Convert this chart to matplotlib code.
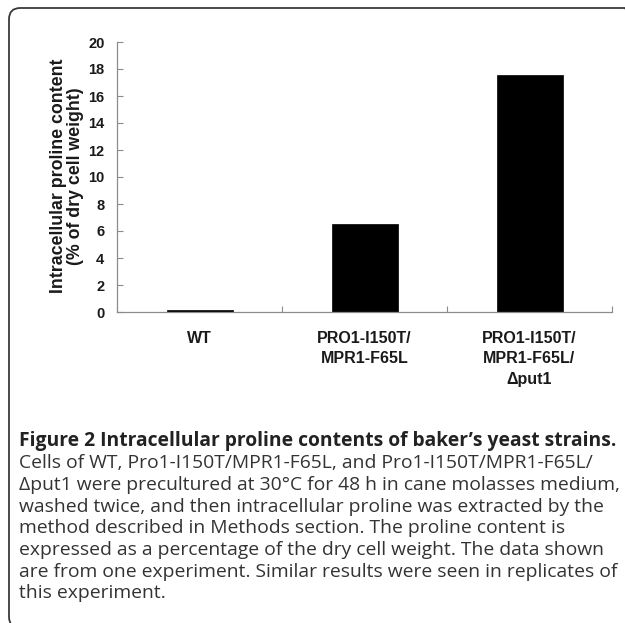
import matplotlib
matplotlib.use("Agg")
import matplotlib.pyplot as plt
from matplotlib.patches import FancyBboxPatch
import numpy as np

categories = ["WT", "PRO1-I150T/\nMPR1-F65L", "PRO1-I150T/\nMPR1-F65L/\n\u0394put1"]
values = [0.15, 6.55, 17.55]
yticks = list(range(0, 21, 2))
ylabel = "Intracellular proline content\n(% of dry cell weight)"
caption_title = "Figure 2 Intracellular proline contents of baker\u2019s yeast strains."
caption_lines = [
    "Cells of WT, Pro1-I150T/MPR1-F65L, and Pro1-I150T/MPR1-F65L/",
    "\u0394put1 were precultured at 30\u00b0C for 48 h in cane molasses medium,",
    "washed twice, and then intracellular proline was extracted by the",
    "method described in Methods section. The proline content is",
    "expressed as a percentage of the dry cell weight. The data shown",
    "are from one experiment. Similar results were seen in replicates of",
    "this experiment.",
]

W, H = 625, 623
fig = plt.figure(figsize=(W / 100, H / 100), dpi=100)
fig.patch.set_facecolor("white")

# border
box = FancyBboxPatch((9 / W, 1 - 628 / H), (636 - 9) / W, (628 - 8) / H,
                     boxstyle="round,pad=0,rounding_size=0.018",
                     transform=fig.transFigure, fill=False,
                     edgecolor="#3a3a3a", linewidth=1.3, clip_on=False)
fig.patches.append(box)

ax = fig.add_axes([117 / W, 1 - 312 / H, (612 - 117) / W, (312 - 42) / H])
x = np.arange(len(categories))
ax.bar(x, values, width=0.4, color="black", edgecolor="black", linewidth=0.5)
ax.set_xlim(-0.5, len(categories) - 0.5)
ax.set_ylim(0, 20)
ax.set_yticks(yticks)
ax.set_yticklabels([str(t) for t in yticks], fontfamily="Liberation Sans",
                   fontweight="bold", fontsize=10.5, color="#1a1a1a")
ax.set_xticks(x)
ax.set_xticklabels(categories, fontfamily="Liberation Sans", fontweight="bold",
                   fontsize=11.5, color="#1a1a1a", linespacing=1.42)
ax.set_xticks(np.arange(-0.5, len(categories), 1.0), minor=True)
ax.tick_params(axis="x", which="major", length=0, pad=14)
ax.tick_params(axis="x", which="minor", direction="in", length=4, color="#8c8c8c", width=0.8)
ax.tick_params(axis="y", direction="in", length=4, color="#8c8c8c", width=0.8, pad=9)
for s in ["top", "right"]:
    ax.spines[s].set_visible(False)
for s in ["left", "bottom"]:
    ax.spines[s].set_color("#8c8c8c")
    ax.spines[s].set_linewidth(0.9)

fig.text(67 / W, 1 - 176 / H, ylabel, rotation=90, ha="center", va="center",
         fontfamily="Liberation Sans", fontweight="bold", fontsize=12.8,
         linespacing=1.05, color="#1a1a1a")

# caption
fig.text(19 / W, 1 - 441 / H, caption_title, ha="left", va="center",
         fontfamily="Open Sans", fontweight="bold", fontsize=13.9, color="#222222")
ys = [463, 485, 507, 528, 550, 572, 593]
for yy, line in zip(ys, caption_lines):
    fig.text(19 / W, 1 - yy / H, line, ha="left", va="center",
             fontfamily="Open Sans", fontsize=13.9, color="#333333")

fig.savefig("out.png", dpi=100, facecolor="white")
